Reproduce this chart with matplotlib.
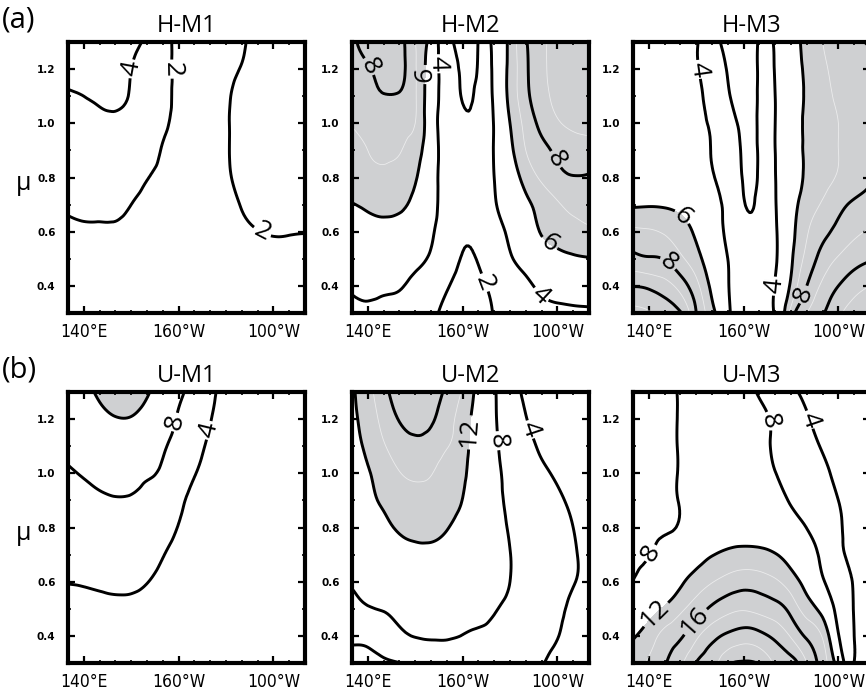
import numpy as np
import matplotlib
matplotlib.use("Agg")
import matplotlib.pyplot as plt
import matplotlib.tri as mtri
from matplotlib import font_manager

# ---------------- data ----------------
lon = [130, 140, 150, 160, 170, 180, 190, 200, 210, 220, 230, 240, 250, 260, 270, 280]
mu = [1.3, 1.2, 1.1, 1.0, 0.9, 0.8, 0.7, 0.6, 0.5, 0.4, 0.3]

h_m1 = [
    [5.6, 5.4, 5.1, 4.8, 4.4, 3.8, 2.8, 1.6, 1.4, 1.3, 1.6, 1.9, 2.3, 2.7, 2.9, 3.0],
    [5.0, 4.9, 4.7, 4.4, 4.0, 3.4, 2.7, 1.6, 1.4, 1.4, 1.7, 2.05, 2.4, 2.7, 2.9, 3.0],
    [3.7, 4.0, 4.2, 4.25, 3.9, 3.3, 2.6, 1.6, 1.4, 1.5, 1.85, 2.3, 2.6, 2.8, 3.0, 3.1],
    [3.3, 3.5, 3.7, 3.75, 3.5, 3.0, 2.3, 1.6, 1.4, 1.5, 1.9, 2.3, 2.6, 2.8, 3.0, 3.1],
    [3.0, 3.2, 3.3, 3.3, 3.0, 2.6, 1.9, 1.5, 1.4, 1.5, 1.9, 2.3, 2.6, 2.8, 3.0, 3.1],
    [2.8, 2.9, 2.9, 2.8, 2.5, 2.05, 1.7, 1.5, 1.4, 1.5, 1.85, 2.25, 2.55, 2.75, 2.9, 3.0],
    [2.3, 2.4, 2.35, 2.3, 2.0, 1.7, 1.5, 1.4, 1.4, 1.5, 1.7, 2.05, 2.35, 2.55, 2.7, 2.75],
    [1.65, 1.8, 1.85, 1.85, 1.7, 1.55, 1.45, 1.35, 1.35, 1.45, 1.6, 1.8, 1.97, 2.07, 2.06, 2.03],
    [1.5, 1.55, 1.6, 1.6, 1.5, 1.4, 1.3, 1.25, 1.25, 1.3, 1.4, 1.55, 1.7, 1.8, 1.82, 1.8],
    [1.35, 1.4, 1.4, 1.4, 1.35, 1.3, 1.2, 1.15, 1.15, 1.2, 1.3, 1.4, 1.5, 1.6, 1.62, 1.6],
    [1.2, 1.25, 1.25, 1.25, 1.2, 1.15, 1.1, 1.05, 1.05, 1.1, 1.15, 1.25, 1.35, 1.4, 1.45, 1.45],
]

h_m2 = [
    [7.7, 8.6, 9.0, 8.5, 7.0, 5.4, 2.6, 1.5, 2.05, 4.5, 6.3, 7.9, 8.8, 9.3, 9.5, 9.5],
    [7.6, 7.9, 8.4, 8.35, 7.1, 5.2, 2.9, 1.85, 2.1, 4.4, 6.3, 7.8, 8.8, 9.3, 9.5, 9.5],
    [7.4, 7.7, 7.95, 7.9, 7.1, 5.1, 3.0, 1.95, 2.3, 4.3, 6.3, 7.7, 8.7, 9.2, 9.4, 9.4],
    [7.05, 7.3, 7.4, 7.3, 7.0, 5.0, 3.0, 2.2, 2.4, 4.1, 6.0, 7.3, 8.3, 8.9, 9.2, 9.3],
    [6.8, 7.0, 7.15, 7.05, 6.5, 5.0, 3.1, 2.3, 2.5, 4.1, 5.7, 7.0, 7.7, 8.2, 8.5, 8.6],
    [6.6, 6.75, 6.8, 6.6, 6.1, 4.8, 3.1, 2.3, 2.5, 4.0, 5.3, 6.4, 7.15, 7.7, 7.95, 7.9],
    [5.95, 6.15, 6.25, 6.15, 5.7, 4.6, 3.2, 2.3, 2.45, 3.8, 4.8, 5.7, 6.4, 6.9, 7.2, 7.3],
    [5.5, 5.7, 5.75, 5.65, 5.2, 4.2, 3.2, 2.2, 2.35, 3.4, 4.2, 5.1, 6.1, 6.5, 6.7, 6.85],
    [5.0, 5.2, 5.2, 5.0, 4.5, 3.8, 2.9, 1.9, 2.1, 2.9, 3.85, 4.5, 5.1, 5.6, 5.85, 5.95],
    [4.2, 4.4, 4.3, 4.15, 3.5, 2.9, 2.15, 1.4, 1.6, 2.4, 3.1, 3.7, 4.3, 4.7, 4.9, 5.0],
    [3.8, 3.75, 3.6, 3.4, 3.0, 2.3, 1.6, 0.9, 1.1, 2.1, 2.7, 3.1, 3.4, 3.5, 3.6, 3.65],
]

h_m3 = [
    [5.0, 4.9, 4.7, 4.4, 4.1, 2.8, 1.5, 1.3, 2.2, 4.2, 5.3, 6.4, 7.0, 7.4, 7.8, 8.1],
    [5.0, 4.9, 4.7, 4.45, 4.1, 3.2, 1.9, 1.4, 2.2, 4.1, 5.2, 6.3, 6.9, 7.2, 7.45, 7.65],
    [4.95, 4.85, 4.65, 4.45, 4.25, 3.4, 2.15, 1.5, 2.2, 4.0, 5.15, 6.2, 6.8, 7.1, 7.3, 7.5],
    [4.9, 4.8, 4.65, 4.45, 4.2, 3.8, 2.6, 1.75, 2.2, 4.0, 5.1, 6.3, 6.7, 7.0, 7.25, 7.4],
    [4.9, 4.8, 4.7, 4.5, 4.3, 3.95, 2.9, 1.85, 2.15, 4.0, 5.3, 6.2, 6.6, 7.0, 7.25, 7.45],
    [5.0, 4.95, 4.8, 4.6, 4.4, 4.1, 3.1, 1.92, 2.15, 3.95, 5.3, 6.2, 6.7, 7.1, 7.5, 7.85],
    [5.85, 5.9, 5.85, 5.6, 5.1, 4.5, 3.5, 2.08, 2.3, 3.9, 5.5, 6.5, 7.1, 7.7, 8.15, 8.4],
    [7.2, 7.1, 6.9, 6.5, 5.8, 4.9, 3.6, 2.4, 2.5, 3.8, 5.6, 6.9, 7.7, 8.3, 8.8, 9.1],
    [8.3, 8.1, 7.95, 7.2, 6.4, 5.2, 4.0, 2.7, 2.7, 3.8, 5.8, 7.3, 8.4, 9.1, 9.6, 9.9],
    [9.95, 9.8, 9.4, 8.6, 7.3, 5.7, 4.1, 2.9, 2.8, 4.1, 6.2, 8.0, 9.2, 10.0, 10.6, 11.0],
    [11.3, 11.1, 10.6, 10.1, 8.0, 6.4, 4.3, 3.0, 2.9, 4.2, 7.4, 9.0, 9.9, 10.8, 11.5, 11.8],
]

u_m1 = [
    [10.5, 11.4, 12.3, 12.9, 12.9, 12.2, 10.6, 8.7, 6.6, 4.5, 3.4, 2.7, 2.2, 1.9, 1.7, 1.6],
    [9.7, 10.6, 11.4, 11.9, 11.9, 11.3, 9.9, 7.6, 5.7, 4.1, 3.1, 2.5, 2.1, 1.8, 1.6, 1.5],
    [8.6, 9.3, 10.0, 10.5, 10.5, 10.0, 8.5, 6.6, 4.9, 3.6, 2.8, 2.3, 1.9, 1.7, 1.5, 1.4],
    [7.8, 8.15, 8.55, 8.8, 8.7, 8.3, 7.5, 5.5, 4.1, 3.2, 2.5, 2.1, 1.8, 1.6, 1.4, 1.3],
    [7.2, 7.5, 7.75, 7.9, 7.85, 7.45, 6.4, 4.6, 3.5, 2.9, 2.3, 1.9, 1.7, 1.5, 1.4, 1.3],
    [6.5, 6.7, 6.9, 7.0, 6.9, 6.3, 5.2, 3.9, 3.1, 2.6, 2.1, 1.8, 1.6, 1.4, 1.3, 1.2],
    [5.6, 5.7, 5.8, 5.8, 5.6, 5.0, 4.1, 3.3, 2.8, 2.3, 1.9, 1.7, 1.5, 1.35, 1.25, 1.2],
    [4.1, 4.2, 4.35, 4.45, 4.4, 4.05, 3.5, 2.9, 2.4, 2.0, 1.7, 1.5, 1.35, 1.25, 1.15, 1.1],
    [3.5, 3.55, 3.6, 3.65, 3.6, 3.4, 3.0, 2.5, 2.1, 1.8, 1.55, 1.4, 1.25, 1.15, 1.1, 1.0],
    [3.0, 3.05, 3.1, 3.1, 3.05, 2.9, 2.6, 2.2, 1.9, 1.6, 1.4, 1.25, 1.15, 1.05, 1.0, 0.95],
    [2.6, 2.65, 2.7, 2.7, 2.65, 2.5, 2.3, 1.95, 1.7, 1.45, 1.3, 1.15, 1.05, 1.0, 0.95, 0.9],
]

u_m2 = [
    [11.6, 13.5, 15.2, 17.3, 18.0, 17.2, 15.6, 13.8, 11.2, 8.3, 5.8, 3.4, 2.6, 2.0, 1.7, 1.5],
    [11.4, 13.0, 14.6, 16.1, 16.6, 16.3, 14.8, 13.1, 10.9, 8.4, 5.9, 4.1, 3.0, 2.3, 1.9, 1.6],
    [10.8, 12.5, 13.8, 15.1, 15.6, 15.2, 14.1, 12.9, 10.5, 8.6, 6.2, 4.7, 3.6, 2.6, 2.1, 1.8],
    [10.0, 11.8, 12.8, 13.9, 14.4, 14.1, 13.2, 12.45, 10.3, 8.8, 6.8, 5.2, 4.4, 3.6, 2.7, 2.2],
    [9.2, 11.2, 12.3, 12.9, 13.3, 13.2, 12.8, 11.95, 10.2, 9.0, 7.2, 6.0, 5.0, 4.35, 3.5, 2.8],
    [8.5, 9.7, 11.2, 12.3, 12.6, 12.55, 12.1, 11.1, 9.9, 9.1, 7.7, 6.6, 5.7, 4.8, 4.0, 3.3],
    [8.4, 9.0, 9.8, 10.8, 11.4, 11.5, 11.2, 10.4, 9.5, 9.1, 8.05, 6.9, 5.9, 5.0, 4.2, 3.5],
    [8.2, 8.6, 9.2, 9.8, 10.1, 10.2, 10.0, 9.6, 9.1, 9.0, 8.0, 6.7, 5.8, 4.9, 4.1, 3.5],
    [6.9, 7.8, 8.15, 8.7, 8.9, 9.0, 8.9, 8.9, 8.7, 8.2, 7.2, 6.0, 5.0, 4.4, 3.6, 3.1],
    [4.7, 5.0, 6.2, 7.4, 8.1, 8.25, 8.2, 7.95, 7.6, 7.2, 6.1, 5.1, 4.5, 4.05, 3.4, 2.9],
    [2.6, 2.9, 3.4, 3.95, 4.8, 5.6, 6.2, 6.5, 6.3, 5.8, 5.1, 4.6, 4.1, 3.5, 3.0, 2.6],
]

u_m3 = [
    [7.0, 7.3, 7.6, 8.1, 8.4, 8.6, 8.7, 8.5, 7.8, 6.2, 4.5, 3.5, 2.8, 2.3, 2.0, 1.8],
    [7.1, 7.4, 7.65, 8.1, 8.5, 8.75, 8.85, 8.7, 8.45, 7.5, 5.6, 4.2, 3.2, 2.6, 2.2, 2.0],
    [7.2, 7.5, 7.7, 8.1, 8.6, 8.95, 9.1, 9.0, 8.6, 7.7, 6.5, 5.0, 3.8, 3.0, 2.5, 2.2],
    [7.3, 7.55, 7.7, 8.1, 8.7, 9.15, 9.35, 9.4, 9.1, 8.05, 7.2, 5.8, 4.5, 3.5, 2.8, 2.4],
    [7.4, 7.6, 7.7, 8.1, 8.9, 9.5, 9.8, 9.9, 9.7, 9.1, 7.7, 6.5, 5.2, 4.0, 3.2, 2.7],
    [7.5, 7.65, 7.75, 8.25, 9.5, 10.3, 10.8, 11.0, 10.9, 10.4, 9.5, 7.95, 6.4, 4.3, 3.6, 3.0],
    [7.7, 7.95, 8.8, 9.9, 11.0, 11.9, 12.4, 12.6, 12.5, 12.1, 11.0, 9.2, 7.4, 4.7, 3.7, 3.2],
    [8.05, 8.9, 10.0, 11.6, 12.9, 13.9, 14.7, 15.2, 15.0, 14.3, 13.0, 11.0, 8.3, 6.0, 3.8, 3.2],
    [10.0, 11.0, 12.3, 13.6, 15.0, 16.4, 17.4, 17.8, 17.4, 16.8, 15.3, 13.1, 11.0, 6.8, 3.9, 3.3],
    [11.8, 13.0, 14.6, 15.7, 17.6, 19.3, 20.4, 21.0, 20.6, 19.5, 17.8, 15.7, 13.8, 8.2, 4.0, 3.4],
    [13.0, 14.3, 15.8, 17.6, 20.1, 21.3, 23.6, 24.2, 23.8, 21.7, 21.0, 18.0, 15.0, 10.6, 3.95, 3.5],
]

titles = ["H-M1", "H-M2", "H-M3", "U-M1", "U-M2", "U-M3"]
fields = [h_m1, h_m2, h_m3, u_m1, u_m2, u_m3]
row_tags = ["(a)", "(b)"]

h_levels = [2, 4, 6, 8, 10]
h_faint = [7, 9, 11]
h_shade = 6
u_levels = [4, 8, 12, 16, 20, 24]
u_faint = [14, 18, 22]
u_shade = 12

label_spots = [
    [(171, 1.2), (196, 1.2), (253, 0.6)],
    [(141, 1.21), (175, 1.18), (186, 1.22), (260, 0.87), (254, 0.55), (213, 0.41), (250, 0.37)],
    [(173, 1.2), (162, 0.66), (153, 0.49), (218, 0.40), (237, 0.37)],
    [(197, 1.19), (218, 1.16)],
    [(206, 1.15), (222, 1.12), (242, 1.16)],
    [(214, 1.19), (243, 1.2), (143, 0.70), (146, 0.47), (168, 0.46)],
]

xtick_values = [140, 200, 260]
xtick_labels = ["140°E", "160°W", "100°W"]
ytick_values = [0.4, 0.6, 0.8, 1.0, 1.2]
ytick_labels = ["0.4", "0.6", "0.8", "1.0", "1.2"]

# ---------------- style ----------------
names = {f.name for f in font_manager.fontManager.ttflist}
main_font = ["Open Sans", "DejaVu Sans"] if "Open Sans" in names else ["DejaVu Sans"]
plt.rcParams["font.family"] = main_font

narrow_prop = None
for f in font_manager.fontManager.ttflist:
    if f.name == "Liberation Sans Narrow" and f.weight in (400, "normal", "regular") and f.style == "normal":
        narrow_prop = font_manager.FontProperties(fname=f.fname, size=13)
        break
if narrow_prop is None:
    for f in font_manager.fontManager.ttflist:
        if "Condensed" in f.fname and "DejaVuSans" in f.fname and "Bold" not in f.fname \
                and "Oblique" not in f.fname and "Mono" not in f.fname:
            narrow_prop = font_manager.FontProperties(fname=f.fname, size=12.5)
            break
if narrow_prop is None:
    narrow_prop = font_manager.FontProperties(family=main_font, size=12, stretch="condensed")

GREY = "#cfd0d2"
W, H = 866, 697
fig = plt.figure(figsize=(W / 100, H / 100), dpi=100)

col_left = [68, 352, 633]
row_top = [42, 392]
pw, ph = 237, 271


def refine(field):
    z = np.asarray(field, float)
    ny, nx = z.shape
    jj, ii = np.meshgrid(np.arange(ny), np.arange(nx), indexing="ij")
    tris = []
    for j in range(ny - 1):
        for i in range(nx - 1):
            a = j * nx + i
            b = a + 1
            c = a + nx
            d = c + 1
            tris.append([a, b, d])
            tris.append([a, d, c])
    tri = mtri.Triangulation(ii.ravel().astype(float), jj.ravel().astype(float), tris)
    tri_r, z_r = mtri.UniformTriRefiner(tri).refine_field(z.ravel(), subdiv=3)
    lon_r = np.interp(tri_r.x, np.arange(nx), lon)
    mu_r = np.interp(tri_r.y, np.arange(ny), mu)
    return mtri.Triangulation(lon_r, mu_r, tri_r.triangles), z_r


for k, (title, field) in enumerate(zip(titles, fields)):
    r, c = divmod(k, 3)
    ax = fig.add_axes([col_left[c] / W, 1 - (row_top[r] + ph) / H, pw / W, ph / H])
    tr, zr = refine(field)
    if r == 0:
        levels, faint, shade = h_levels, h_faint, h_shade
    else:
        levels, faint, shade = u_levels, u_faint, u_shade
    ax.tricontourf(tr, zr, levels=[shade, 1000], colors=[GREY], zorder=1)
    ax.tricontour(tr, zr, levels=faint, colors="white", linewidths=0.6, alpha=0.6, zorder=2)
    cs = ax.tricontour(tr, zr, levels=levels, colors="black", linewidths=2.1, zorder=3)
    labs = ax.clabel(cs, manual=label_spots[k], fmt="%d", fontsize=19, inline=True,
                     inline_spacing=2)
    for t in labs:
        t.set_fontsize(19)

    ax.set_xlim(130, 280)
    ax.set_ylim(0.3, 1.3)
    ax.set_xticks(xtick_values)
    ax.set_xticklabels(xtick_labels, fontproperties=narrow_prop)
    ax.set_yticks(ytick_values)
    ax.set_yticklabels(ytick_labels, fontsize=7.5, fontweight="bold", family=["DejaVu Sans"])
    ax.set_xticks([130, 150, 160, 170, 180, 190, 210, 220, 230, 240, 250, 270, 280], minor=True)
    ax.set_yticks([0.3, 0.5, 0.7, 0.9, 1.1, 1.3], minor=True)
    ax.tick_params(which="major", direction="in", length=5, width=1.6, top=True, right=True,
                   pad=7)
    ax.tick_params(which="minor", direction="in", length=2.5, width=1.2, top=True, right=True)
    ax.tick_params(axis="y", which="major", pad=9)
    for sp in ax.spines.values():
        sp.set_linewidth(3)
        sp.set_zorder(10)
    ax.set_title(title, fontsize=17, pad=7)

for r, tag in enumerate(row_tags):
    fig.text(2 / W, 1 - (row_top[r] - 36) / H, tag, fontsize=21, va="top", ha="left")
    fig.text(24 / W, 1 - (row_top[r] + 141) / H, "μ", fontsize=18, va="center", ha="center")

fig.savefig("out.png", dpi=100)
